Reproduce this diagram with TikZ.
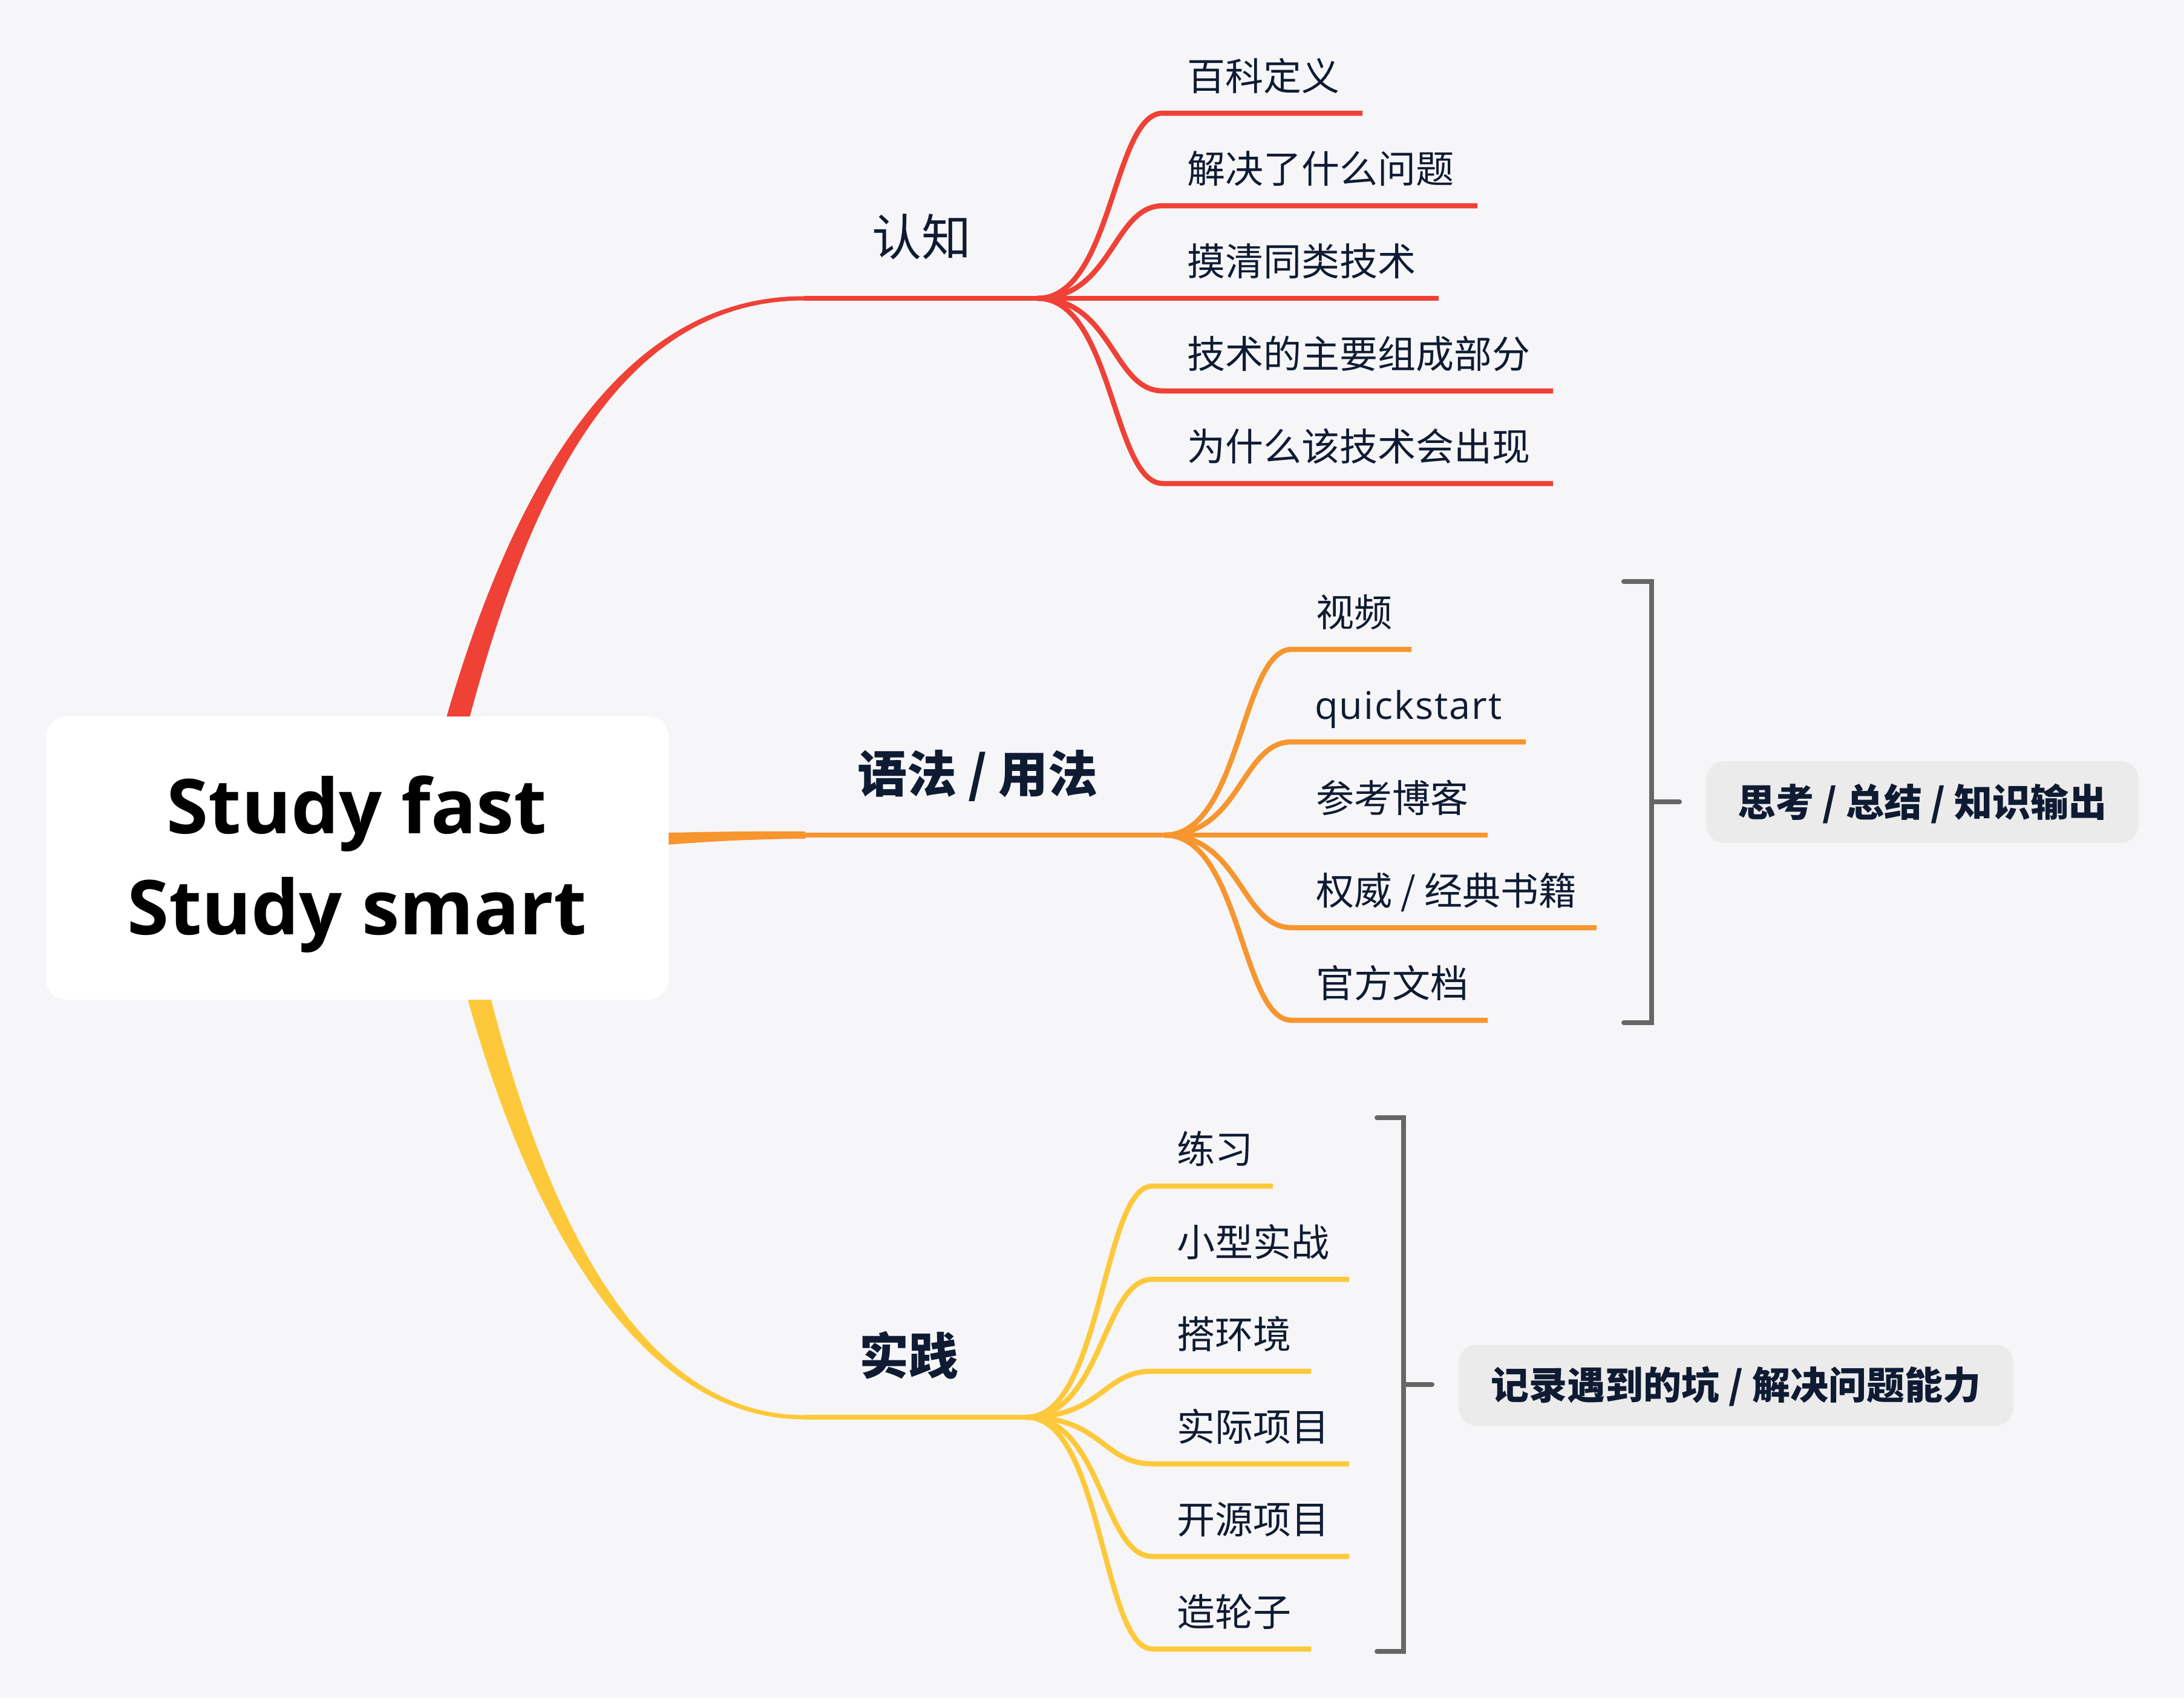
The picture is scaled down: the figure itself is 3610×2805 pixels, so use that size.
\documentclass[tikz,border=0pt]{standalone}
\usepackage{fontspec}
\setmainfont{Open Sans}
\newfontfamily\cjk{Noto Sans CJK SC}
\newfontfamily\qsfont[LetterSpace=3.2]{Open Sans}
\definecolor{cBg}{HTML}{F6F6F8}
\definecolor{cRed}{HTML}{EF4136}
\definecolor{cOra}{HTML}{F7952F}
\definecolor{cYel}{HTML}{FDC93A}
\definecolor{cText}{HTML}{0F1B33}
\definecolor{cGray}{HTML}{666666}
\definecolor{cSum}{HTML}{EBEBEB}
\tikzset{
  rootbox/.style={fill=white, rounded corners=34pt, minimum width=1029pt, minimum height=468pt, inner sep=0pt},
  roottext/.style={font=\fontsize{125}{150}\selectfont\bfseries, text=black, inner sep=0pt, anchor=base},
  mainlbl/.style={font=\cjk\fontsize{82}{90}\selectfont, text=cText, inner sep=0pt, anchor=base},
  leaf/.style={font=\cjk\fontsize{63}{70}\selectfont, text=cText, inner sep=0pt, anchor=base west},
  redln/.style={draw=cRed, line width=8.5pt, line join=round},
  oraln/.style={draw=cOra, line width=8.5pt, line join=round},
  yelln/.style={draw=cYel, line width=8.5pt, line join=round},
  bracket/.style={draw=cGray, line width=8pt, line cap=round, line join=miter},
  sumbox/.style={fill=cSum, rounded corners=30pt, inner sep=0pt, text=cText,
    font=\cjk\bfseries\fontsize{63}{70}\selectfont, text height=55pt, text depth=8pt}
}
\begin{document}
\begin{tikzpicture}[x=1pt,y=-1pt]
\useasboundingbox (0,0) rectangle (3610,2805);
\fill[cBg] (0,0) rectangle (3610,2805);

% ---- tapered main branches ----
\fill[cRed] (680.5,1413.7) .. controls (780.5,955.7) and (960,489) .. (1329,489.5)
  -- (1329,496.5) .. controls (960,497) and (819.5,964.3) .. (719.5,1422.3) -- cycle;
\fill[cOra] (590,1393) .. controls (800,1393) and (1000,1372) .. (1331,1374)
  -- (1331,1386) .. controls (1000,1388) and (800,1443) .. (590,1443) -- cycle;
\fill[cYel] (720.3,1421.7) .. controls (810.3,1903.7) and (1015,2346) .. (1329,2345.5)
  -- (1329,2338.5) .. controls (1015,2338) and (849.7,1896.3) .. (759.7,1414.3) -- cycle;

% ---- root ----
\node[rootbox] (root) at (590.5,1418) {};
\node[roottext] (rootA) at (590,1377) {Study fast};
\node[roottext] (rootB) at (590,1544) {Study smart};

% ---- red branch ----
\coordinate (rE) at (1329,493);
\coordinate (rF) at (1715,493);
\draw[redln] (rE) -- (rF);
\node[mainlbl] (rL) at (1523,422) {认知};
\coordinate (rS1) at (1922,187); \coordinate (rE1) at (2252,187);
\coordinate (rS2) at (1922,340); \coordinate (rE2) at (2442,340);
\coordinate (rS3) at (1922,493); \coordinate (rE3) at (2378,493);
\coordinate (rS4) at (1922,646); \coordinate (rE4) at (2567,646);
\coordinate (rS5) at (1922,799); \coordinate (rE5) at (2567,799);
\foreach \i in {1,...,5}{
  \draw[redln] (rF) .. controls +(124,0) and +(-83,0) .. (rS\i) -- (rE\i);
}
\node[leaf] (r1) at (1962,149) {百科定义};
\node[leaf] (r2) at (1962,302) {解决了什么问题};
\node[leaf] (r3) at (1962,455) {摸清同类技术};
\node[leaf] (r4) at (1962,608) {技术的主要组成部分};
\node[leaf] (r5) at (1962,761) {为什么该技术会出现};

% ---- orange branch ----
\coordinate (oE) at (1331,1380);
\coordinate (oF) at (1925,1380);
\draw[oraln] (oE) -- (oF);
\node[mainlbl, font=\cjk\bfseries\fontsize{82}{90}\selectfont] (oL) at (1616,1309) {语法 / 用法};
\coordinate (oS1) at (2135,1073); \coordinate (oE1) at (2333,1073);
\coordinate (oS2) at (2135,1226); \coordinate (oE2) at (2522,1226);
\coordinate (oS3) at (2135,1380); \coordinate (oE3) at (2459,1380);
\coordinate (oS4) at (2135,1533); \coordinate (oE4) at (2639,1533);
\coordinate (oS5) at (2135,1686); \coordinate (oE5) at (2459,1686);
\foreach \i in {1,...,5}{
  \draw[oraln] (oF) .. controls +(126,0) and +(-84,0) .. (oS\i) -- (oE\i);
}
\node[leaf] (o1) at (2175,1035) {视频};
\node[leaf, font=\qsfont\fontsize{63}{70}\selectfont] (o2) at (2173,1188) {quickstart};
\node[leaf] (o3) at (2175,1342) {参考博客};
\node[leaf] (o4) at (2175,1495) {权威 / 经典书籍};
\node[leaf] (o5) at (2175,1648) {官方文档};

% ---- orange summary ----
\coordinate (bOt) at (2684,961);
\coordinate (bOtr) at (2730,961);
\coordinate (bObr) at (2730,1690);
\coordinate (bOb) at (2684,1690);
\coordinate (bOm) at (2730,1325);
\coordinate (bOmr) at (2776,1325);
\draw[bracket] (bOt) -- (bOtr) -- (bObr) -- (bOb);
\draw[bracket] (bOm) -- (bOmr);
\node[sumbox, minimum width=715pt, minimum height=135pt] (sumO) at (3177.5,1325.5) {思考 / 总结 / 知识输出};

% ---- yellow branch ----
\coordinate (yE) at (1329,2342);
\coordinate (yF) at (1697,2342);
\draw[yelln] (yE) -- (yF);
\node[mainlbl, font=\cjk\bfseries\fontsize{82}{90}\selectfont] (yL) at (1502,2271) {实践};
\coordinate (yS1) at (1905,1960); \coordinate (yE1) at (2104,1960);
\coordinate (yS2) at (1905,2114); \coordinate (yE2) at (2230,2114);
\coordinate (yS3) at (1905,2266); \coordinate (yE3) at (2167,2266);
\coordinate (yS4) at (1905,2419); \coordinate (yE4) at (2230,2419);
\coordinate (yS5) at (1905,2572); \coordinate (yE5) at (2230,2572);
\coordinate (yS6) at (1905,2725); \coordinate (yE6) at (2167,2725);
\foreach \i in {1,...,6}{
  \draw[yelln] (yF) .. controls +(125,0) and +(-83,0) .. (yS\i) -- (yE\i);
}
\node[leaf] (y1) at (1945,1922) {练习};
\node[leaf] (y2) at (1945,2076) {小型实战};
\node[leaf] (y3) at (1945,2228) {搭环境};
\node[leaf] (y4) at (1945,2381) {实际项目};
\node[leaf] (y5) at (1945,2534) {开源项目};
\node[leaf] (y6) at (1945,2687) {造轮子};

% ---- yellow summary ----
\coordinate (bYt) at (2276,1847);
\coordinate (bYtr) at (2320,1847);
\coordinate (bYbr) at (2320,2729);
\coordinate (bYb) at (2276,2729);
\coordinate (bYm) at (2320,2288);
\coordinate (bYmr) at (2367,2288);
\draw[bracket] (bYt) -- (bYtr) -- (bYbr) -- (bYb);
\draw[bracket] (bYm) -- (bYmr);
\node[sumbox, minimum width=917pt, minimum height=134pt] (sumY) at (2869.5,2289) {记录遇到的坑 / 解决问题能力};
\end{tikzpicture}
\end{document}
